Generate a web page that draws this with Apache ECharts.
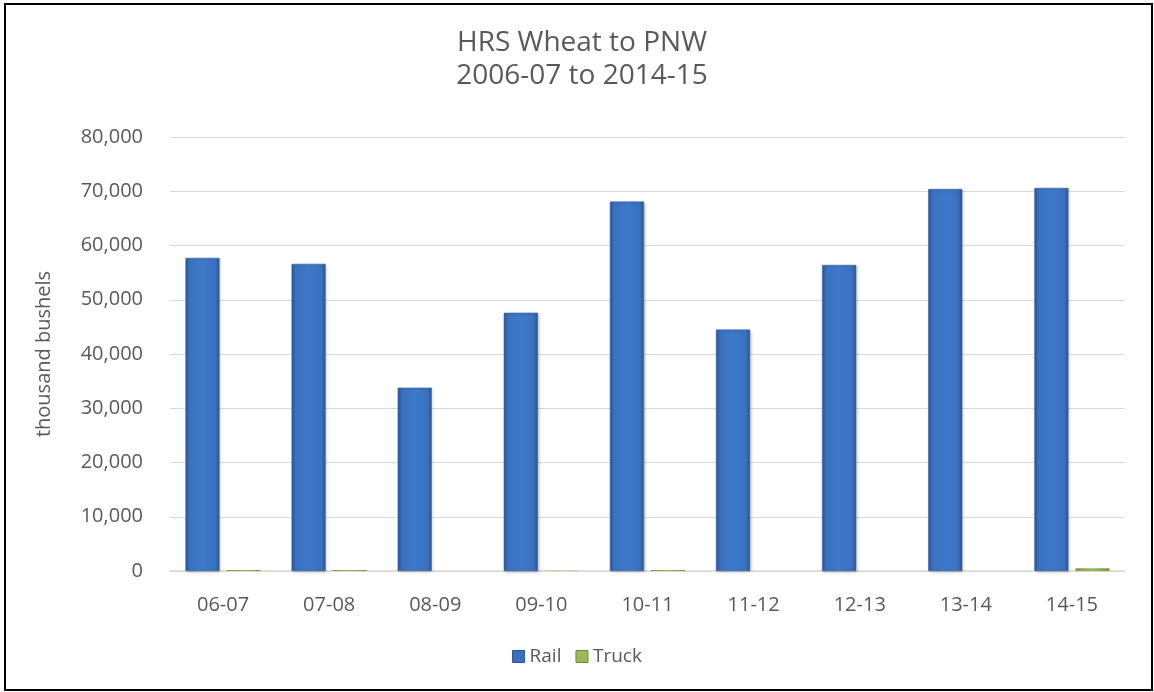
<!DOCTYPE html>
<html><head><meta charset="utf-8">
<script src="https://cdn.jsdelivr.net/npm/echarts@6/dist/echarts.min.js"></script>
<style>html,body{margin:0;padding:0;background:#fff}#c{width:1154px;height:692px}</style>
</head><body><div id="c"></div>
<script>
const categories = ['06-07','07-08','08-09','09-10','10-11','11-12','12-13','13-14','14-15'];
const railValues = [57700, 56600, 33800, 47600, 68100, 44500, 56400, 70400, 70600];
const truckValues = [200, 200, 0, 40, 200, 0, 0, 0, 500];
const yTicks = [0, 10000, 80000];
const titleLines = ['HRS Wheat to PNW', '2006-07 to 2014-15'];

const FONT = '"Open Sans", Lato, sans-serif';
const chart = echarts.init(document.getElementById('c'), null, {renderer: 'canvas'});
const railGrad = new echarts.graphic.LinearGradient(0, 0, 1, 0, [
  {offset: 0, color: '#2b5896'}, {offset: 0.12, color: '#3a71bf'},
  {offset: 0.5, color: '#3e79c9'}, {offset: 0.88, color: '#3a71bf'}, {offset: 1, color: '#2a5590'}]);
const truckGrad = new echarts.graphic.LinearGradient(0, 0, 1, 0, [
  {offset: 0, color: '#7f9a3f'}, {offset: 0.5, color: '#9bbb59'}, {offset: 1, color: '#7a943c'}]);
chart.setOption({
  animation: false,
  textStyle: {fontFamily: FONT},
  title: {
    text: titleLines.join('\n'), left: 577, textAlign: 'center', top: 22,
    textStyle: {fontFamily: FONT, fontSize: 28, fontWeight: 'normal', color: '#595959', lineHeight: 33}
  },
  graphic: [{type: 'rect', shape: {x: 5, y: 4, width: 1147, height: 686},
    style: {fill: 'none', stroke: '#000', lineWidth: 2}, silent: true}],
  legend: {
    bottom: 21, left: 'center', itemWidth: 12, itemHeight: 12, itemGap: 14,
    textStyle: {fontFamily: FONT, fontSize: 19, color: '#595959'},
    data: [{name: 'Rail', icon: 'rect', itemStyle: {color: '#3a71bf', borderColor: '#2a5590', borderWidth: 1}},
           {name: 'Truck', icon: 'rect', itemStyle: {color: '#9bbb59', borderColor: '#6f8a34', borderWidth: 1}}]
  },
  grid: {left: 170, right: 29, top: 137, bottom: 121, containLabel: false},
  xAxis: {
    type: 'category', data: categories,
    axisLine: {lineStyle: {color: '#d9d9d9', width: 1.5}},
    axisTick: {show: false},
    axisLabel: {fontFamily: FONT, fontSize: 20, color: '#595959', margin: 24}
  },
  yAxis: {
    type: 'value', min: yTicks[0], max: yTicks[2], interval: yTicks[1],
    name: 'thousand bushels', nameLocation: 'middle', nameGap: 116, nameRotate: 90,
    nameTextStyle: {fontFamily: FONT, fontSize: 20, color: '#595959'},
    axisLine: {show: false}, axisTick: {show: false},
    splitLine: {lineStyle: {color: '#d9d9d9', width: 1}},
    axisLabel: {fontFamily: FONT, fontSize: 20, color: '#595959', margin: 27,
      formatter: v => v.toLocaleString('en-US')}
  },
  series: [
    {name: 'Rail', type: 'bar', data: railValues, barWidth: 34, barGap: '21%',
     itemStyle: {color: railGrad, borderColor: '#2f5f9f', borderWidth: 0.5,
       shadowColor: 'rgba(0,0,0,0.25)', shadowBlur: 3, shadowOffsetX: 1, shadowOffsetY: 1}},
    {name: 'Truck', type: 'bar', data: truckValues, barWidth: 34, barGap: '21%',
     itemStyle: {color: truckGrad}}
  ]
});
</script></body></html>
